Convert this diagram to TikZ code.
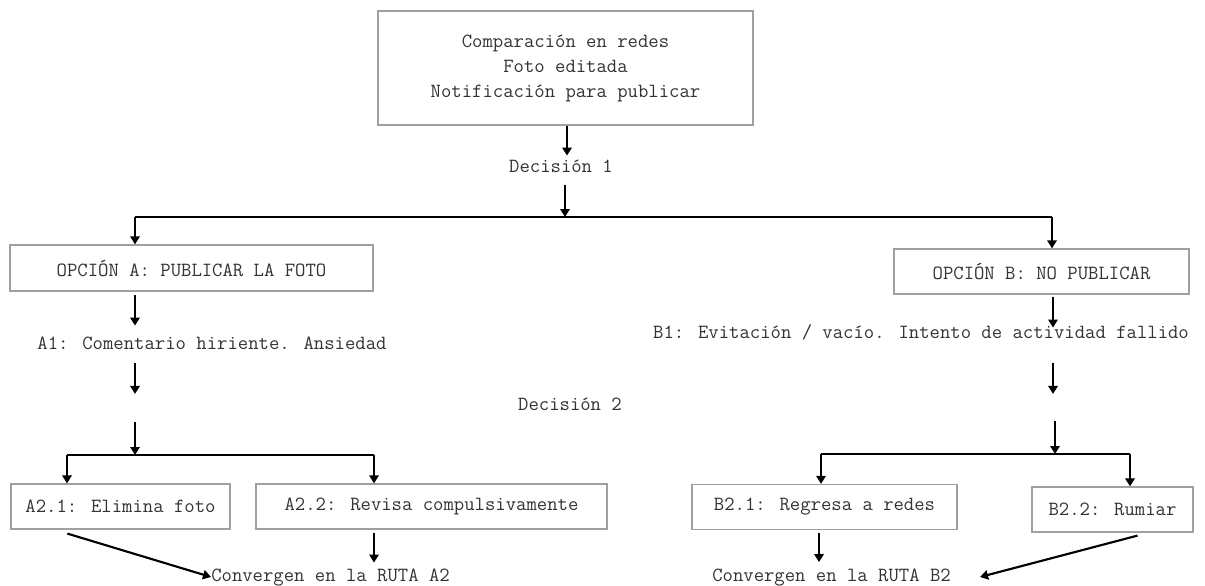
\documentclass[tikz,border=0pt]{standalone}
\usepackage{fontspec}
\usetikzlibrary{arrows.meta,calc}
\definecolor{txt}{HTML}{333333}
\definecolor{boxline}{HTML}{A0A0A0}
\begin{document}
\begin{tikzpicture}[x=0.75pt,y=-0.75pt,
  every node/.style={font=\ttfamily\fontsize{15.1}{18.75}\selectfont, text=txt},
  boxnode/.style={draw=boxline, line width=0.9pt, rectangle, inner sep=0pt, align=center},
  label/.style={inner sep=0pt, text height=9pt, text depth=2.5pt},
  arr/.style={line width=1.6pt, -{Triangle[width=7pt,length=6pt]}},
  bar/.style={line width=1.6pt}]
\useasboundingbox (0,0) rectangle (1205,585);
\fill[white] (0,0) rectangle (1205,585);

% nodes
\node[boxnode, minimum width=375*0.75pt, minimum height=114*0.75pt] (top) at (565.5,68)
  {Comparación en redes\\Foto editada\\Notificación para publicar};
\node[label] (dec1) at (561,168) {Decisión 1};
\node[boxnode, minimum width=363*0.75pt, minimum height=46*0.75pt] (optA) at (191.5,268) {OPCIÓN A: PUBLICAR LA FOTO};
\node[boxnode, minimum width=295*0.75pt, minimum height=45*0.75pt] (optB) at (1041.5,271.5) {OPCIÓN B: NO PUBLICAR};
\node[label] (a1) at (212,345) {A1: Comentario hiriente. Ansiedad};
\node[label] (b1) at (921,334) {B1: Evitación / vacío. Intento de actividad fallido};
\node[label] (dec2) at (570,406) {Decisión 2};
\node[boxnode, minimum width=219*0.75pt, minimum height=45*0.75pt] (a21) at (120.5,506.5) {A2.1: Elimina foto};
\node[boxnode, minimum width=351*0.75pt, minimum height=45*0.75pt] (a22) at (431.5,506.5) {A2.2: Revisa compulsivamente};
\node[boxnode, minimum width=265*0.75pt, minimum height=45*0.75pt] (b21) at (824.5,507) {B2.1: Regresa a redes};
\node[boxnode, minimum width=161*0.75pt, minimum height=45*0.75pt] (b22) at (1112.5,509.5) {B2.2: Rumiar};
\node[label, anchor=west] (cA2) at (211,577) {Convergen en la RUTA A2};
\node[label, anchor=west] (cB2) at (712,577) {Convergen en la RUTA B2};

% junction coordinates
\coordinate (j1) at (565,217);
\coordinate (j1L) at (135,217);
\coordinate (j1R) at (1052,217);
\coordinate (jA) at (135,455);
\coordinate (jAL) at (67,455);
\coordinate (jAR) at (374,455);
\coordinate (jB) at (1055,454);
\coordinate (jBL) at (821,454);
\coordinate (jBR) at (1130,454);

% top section
\draw[arr] (top.south) ++(1.5,0) -- ++(0,30);
\draw[arr] (j1) ++(0,-32) -- (j1);
\draw[bar] (j1L) -- (j1R);
\draw[arr] (j1L) -- (j1L |- optA.north);
\draw[arr] (j1R) -- (j1R |- optB.north);

% branch A
\draw[arr] (optA.south -| j1L) ++(0,3) -- ++(0,31);
\draw[arr] (a1.south -| j1L) ++(0,10) -- ++(0,31);
\draw[arr] (jA) ++(0,-33) -- (jA);
\draw[bar] (jAL) -- (jAR);
\draw[arr] (jAL) -- (jAL |- a21.north);
\draw[arr] (jAR) -- (jAR |- a22.north);
\draw[arr] (jAR |- a22.south) ++(0,3) -- ++(0,30);
\draw[arr] (a21.south west) ++(57,4) -- (cA2.west);

% branch B
\draw[arr] (optB.south -| j1R) ++(1,2) -- ++(0,31);
\draw[arr] (b1.south -| j1R) ++(1,21) -- ++(0,31);
\draw[arr] (jB) ++(0,-33) -- (jB);
\draw[bar] (jBL) -- (jBR);
\draw[arr] (jBL) -- (jBL |- b21.north);
\draw[arr] (jBR) -- (jBR |- b22.north);
\draw[arr] (jBL |- b21.south) ++(-2,3) -- ++(0,29);
\draw[arr] (b22.south) ++(25,3) -- ($(cB2.east)+(29,0)$);
\end{tikzpicture}
\end{document}
